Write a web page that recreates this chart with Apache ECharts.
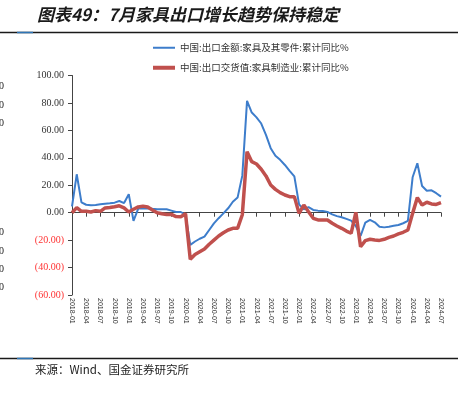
<!DOCTYPE html>
<html><head><meta charset="utf-8">
<script src="https://cdn.jsdelivr.net/npm/echarts@6/dist/echarts.min.js"></script>
<style>html,body{margin:0;padding:0;background:#fff}#c{width:475px;height:393px}</style>
</head><body><div id="c"></div>
<script>
const months = ['2018-01','2018-02','2018-03','2018-04','2018-05','2018-06','2018-07','2018-08','2018-09','2018-10','2018-11','2018-12',
'2019-01','2019-02','2019-03','2019-04','2019-05','2019-06','2019-07','2019-08','2019-09','2019-10','2019-11','2019-12',
'2020-01','2020-02','2020-03','2020-04','2020-05','2020-06','2020-07','2020-08','2020-09','2020-10','2020-11','2020-12',
'2021-01','2021-02','2021-03','2021-04','2021-05','2021-06','2021-07','2021-08','2021-09','2021-10','2021-11','2021-12',
'2022-01','2022-02','2022-03','2022-04','2022-05','2022-06','2022-07','2022-08','2022-09','2022-10','2022-11','2022-12',
'2023-01','2023-02','2023-03','2023-04','2023-05','2023-06','2023-07','2023-08','2023-09','2023-10','2023-11','2023-12',
'2024-01','2024-02','2024-03','2024-04','2024-05','2024-06','2024-07'];
const exportAmount = [4.5,28,7.5,5.8,5.4,5.6,6.1,6.5,6.8,7.3,8.5,7,
13.5,-6,3,3,3.2,2.8,2.5,2.5,2.5,1.5,0.5,0.5,
-1.5,-23.5,-21,-19,-17.5,-12.6,-7.8,-4,-0.5,3.2,8,11,
27,81.5,73,69.5,65,56.7,47,41.5,38.5,34.8,30.5,26.5,
6,2.5,4,2,1.5,1.2,0.6,-1.2,-2.5,-3.3,-4.5,-5.8,
-9.7,-17,-7.3,-5.3,-7,-10.2,-10.7,-10.2,-9.5,-9,-7.7,-6,
25.8,36,19.5,16,16.3,14.2,11.7];
const deliveryValue = [0,3.7,1,1,0.5,1.5,1,3.5,3.8,4.3,5,3.5,
0.5,2.5,4.2,4.8,4.2,2,0,-0.8,-1.3,-1.3,-2.8,-3,
-0.8,-34,-30.5,-28.5,-26.5,-23,-20,-17,-14.6,-12.6,-11.4,-11.4,
-1.5,44.5,37.2,35.5,31.7,26.8,20.2,17,14.6,12.9,11.7,11.7,
-0.5,5.6,0.7,-4.1,-5.3,-5.3,-5.3,-7.7,-9.7,-11.4,-13.4,-15,
0.3,-24.8,-20.4,-19.4,-19.9,-20.2,-19.4,-18,-17,-15.5,-14.3,-12.6,
-0.5,11,5.6,7.6,6.4,6,7.3];
const seriesNames = ['中国:出口金额:家具及其零件:累计同比%','中国:出口交货值:家具制造业:累计同比%'];
const yTicks = {min:-60, max:100, interval:20};
const titleText = '图表49：7月家具出口增长趋势保持稳定';
const sourceText = '来源：Wind、国金证券研究所';

const chart = echarts.init(document.getElementById('c'), null, {renderer:'canvas'});
const cjk = '"Noto Sans CJK SC", sans-serif';
const edgeZeros = [87,106,124,233,252,270,288].map(y => ({
  type:'text', left:-1, top:y-6, style:{text:'0', fill:'#222', font:'10px "Liberation Serif", serif'}
}));
const legendBase = {orient:'vertical', left:153, padding:0, itemWidth:22, icon:'rect',
  textStyle:{fontFamily:cjk, fontSize:9.5, color:'#333'}};
chart.setOption({
  animation:false,
  grid:{left:72, right:34, top:75.5, bottom:98},
  legend:[
    Object.assign({}, legendBase, {top:43, itemHeight:2, data:[seriesNames[0]]}),
    Object.assign({}, legendBase, {top:63, itemHeight:4, data:[seriesNames[1]]})
  ],
  xAxis:[{
    type:'category', data:months, boundaryGap:false,
    axisLine:{onZero:true, lineStyle:{color:'#444', width:1}},
    axisTick:{show:true, interval:2, length:4, lineStyle:{color:'#444'}},
    axisLabel:{show:false}, splitLine:{show:false}
  },{
    type:'category', data:months, boundaryGap:false, position:'bottom',
    axisLine:{show:false, onZero:false}, axisTick:{show:false},
    axisLabel:{interval:2, rotate:-90, margin:3, fontSize:7, color:'#333', fontFamily:'"Liberation Sans", Arial, sans-serif'},
    splitLine:{show:false}
  }],
  yAxis:{
    type:'value', min:yTicks.min, max:yTicks.max, interval:yTicks.interval,
    axisLine:{show:true, lineStyle:{color:'#444', width:1}},
    axisTick:{show:true, length:4, lineStyle:{color:'#444'}},
    splitLine:{show:false},
    axisLabel:{
      margin:8, fontSize:10, fontFamily:'"Liberation Serif", serif', color:'#333',
      formatter: v => v < 0 ? '{r|(' + Math.abs(v).toFixed(2) + ')}' : v.toFixed(2),
      rich:{r:{color:'#FF3333', fontSize:10, fontFamily:'"Liberation Serif", serif'}}
    }
  },
  series:[{
    name:seriesNames[0], type:'line', data:exportAmount, symbol:'none', xAxisIndex:0,
    lineStyle:{color:'#3D7DCB', width:2}, itemStyle:{color:'#3D7DCB'}
  },{
    name:seriesNames[1], type:'line', data:deliveryValue, symbol:'none', xAxisIndex:0,
    lineStyle:{color:'#C0504D', width:3.5}, itemStyle:{color:'#C0504D'}
  }],
  graphic:[
    {type:'text', left:37, top:6, style:{text:titleText, fill:'#1a1a1a', font:'italic bold 17px "Noto Sans CJK SC", sans-serif'}},
    {type:'line', shape:{x1:0, y1:32.5, x2:458, y2:32.5}, style:{stroke:'#1a1a1a', lineWidth:1.5}},
    {type:'line', shape:{x1:17, y1:32.5, x2:33, y2:32.5}, style:{stroke:'#2E75B6', lineWidth:1.5}},
    {type:'line', shape:{x1:0, y1:358.5, x2:458, y2:358.5}, style:{stroke:'#1a1a1a', lineWidth:1.5}},
    {type:'line', shape:{x1:17, y1:358.5, x2:33, y2:358.5}, style:{stroke:'#2E75B6', lineWidth:1.5}},
    {type:'text', left:35, top:364, style:{text:sourceText, fill:'#222', font:'11.5px "Noto Sans CJK SC", sans-serif'}}
  ].concat(edgeZeros)
});
</script></body></html>
